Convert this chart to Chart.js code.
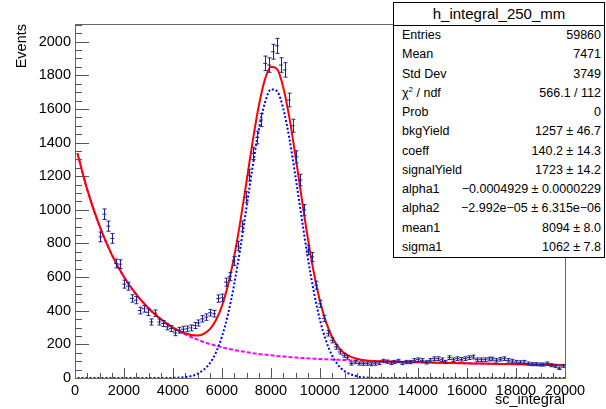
<!DOCTYPE html>
<html>
<head>
<meta charset="utf-8">
<script src="https://cdn.jsdelivr.net/npm/chart.js@4.4.1/dist/chart.umd.min.js"></script>
<style>
  body { margin: 0; background: #fff; }
  #wrap { position: relative; width: 606px; height: 409px; }
  #stats {
    position: absolute; left: 393px; top: 2px; width: 210px;
    border: 1px solid #000; background: #fff; color: #000;
    font-family: "Liberation Sans", Arial, sans-serif;
  }
  #stats .title { height: 22px; line-height: 22px; text-align: center; font-size: 15px; border-bottom: 1px solid #000; }
  #stats .row { display: flex; justify-content: space-between; height: 19.25px; line-height: 19.25px; font-size: 12.5px; padding: 0 3px 0 8px; white-space: nowrap; overflow: hidden; }
  #stats sup { font-size: 8px; line-height: 0; vertical-align: 5px; }
</style>
</head>
<body>
<div id="wrap">
  <canvas id="histChart" width="606" height="409"></canvas>
  <div id="stats"></div>
</div>
<script>
// histogram: 125 bins of 160 from 0 to 20000, first filled bin is #6
const binWidth = 160;
const firstBin = 6;
const counts = [
  839, 974, 903, 830, 681, 677, 558, 546, 473, 463,
  401, 412, 391, 333, 385, 333, 324, 304, 294, 268,
  284, 290, 292, 298, 312, 327, 352, 362, 388, 382,
  472, 477, 570, 603, 696, 785, 903, 1075, 1206, 1336,
  1430, 1534, 1871, 1861, 1940, 1975, 1861, 1832, 1653, 1500,
  1315, 1177, 1000, 762, 720, 552, 441, 354, 266, 224,
  185, 155, 135, 123, 86, 95, 86, 85, 85, 82,
  85, 89, 101, 97, 89, 95, 101, 89, 95, 95,
  105, 109, 105, 93, 105, 115, 115, 109, 95, 121,
  109, 115, 111, 115, 121, 125, 109, 109, 109, 113,
  113, 105, 111, 115, 105, 101, 95, 93, 95, 86,
  82, 82, 80, 80, 86, 76, 70, 58, 72
];

// fit curves
const curveX = [100, 500, 1000, 1500, 2000, 2500, 3000, 3500, 4000, 4500, 5000, 5500, 5750,
  6000, 6250, 6500, 6750, 7000, 7250, 7500, 7750, 8000, 8250, 8500, 8750, 9000, 9250,
  9500, 9750, 10000, 10250, 10500, 10750, 11000, 11500, 12000, 12500, 13000, 13500,
  14000, 14500, 15000, 15500, 16000, 16500, 17000, 17500, 18000, 18500, 19000, 19500, 20000];
const totalFit = [1336, 1120, 904, 734, 601, 497, 415, 350, 300, 265, 252, 290, 343,
  429, 556, 725, 933, 1167, 1405, 1617, 1774, 1851, 1836, 1729, 1548, 1319, 1072,
  834, 626, 457, 331, 242, 183, 147, 114, 103, 99, 97, 95,
  93.5, 92, 90.3, 88.8, 87.4, 86, 84.6, 83.3, 82, 80.7, 79.5, 78.3, 77.2];
const bkgFit = [1336, 1120, 904, 734, 601, 497, 415, 350, 299, 259, 228, 202, 192,
  182.5, 174, 166, 160, 154, 148, 143, 139, 135, 131, 128, 125, 122, 119.5,
  117, 115, 113, 111, 109.5, 108, 106.4, 103.7, 101.3, 99.1, 97.1, 95.2,
  93.5, 91.9, 90.3, 88.8, 87.4, 86, 84.6, 83.3, 82, 80.7, 79.5, 78.3, 77.2];
const sigFit = [0, 0, 0, 0, 0, 0, 0, 0, 1, 5.6, 24.7, 87, 151,
  247, 382, 559, 774, 1014, 1256, 1474, 1635, 1716, 1705, 1602, 1424, 1197, 953,
  717, 511, 344, 220, 132, 75, 41, 10, 2, 0.3, 0, 0,
  0, 0, 0, 0, 0, 0, 0, 0, 0, 0, 0, 0, 0];

const xTicks = [0, 2000, 4000, 6000, 8000, 10000, 12000, 14000, 16000, 18000, 20000];
const yTicks = [0, 200, 400, 600, 800, 1000, 1200, 1400, 1600, 1800, 2000];
const xMinorStep = 500;
const yMinorStep = 50;

const statsTitle = 'h_integral_250_mm';
const statsLabels = ['Entries', 'Mean', 'Std Dev', 'χ<sup>2</sup> / ndf', 'Prob',
  'bkgYield', 'coeff', 'signalYield', 'alpha1', 'alpha2', 'mean1', 'sigma1'];
const statsValues = ['59860', '7471', '3749', '566.1 / 112', '0', '1257 ± 46.7', '140.2 ± 14.3',
  '1723 ± 14.2', '−0.0004929 ± 0.0000229', '−2.992e−05 ± 6.315e−06', '8094 ± 8.0', '1062 ± 7.8'];

const stats = document.getElementById('stats');
let html = '<div class="title">' + statsTitle + '</div>';
statsLabels.forEach((l, i) => {
  html += '<div class="row"><span>' + l + '</span><span>' + statsValues[i] + '</span></div>';
});
stats.innerHTML = html;

const histPoints = counts.map((c, i) => ({ x: (firstBin + i + 0.5) * binWidth, y: c }));
const curve = (arr) => arr.map((v, i) => ({ x: curveX[i], y: v }));

const dataColor = '#20208a';

// frame + inward ticks like ROOT, and error bars for the histogram
const framePlugin = {
  id: 'frame',
  beforeDatasetsDraw(chart) {
    const { ctx, chartArea: a, scales } = chart;
    ctx.save();
    ctx.strokeStyle = '#555';
    ctx.lineWidth = 1;
    ctx.beginPath();
    for (let v = 0; v <= scales.y.max; v += yMinorStep) {
      const y = Math.round(scales.y.getPixelForValue(v)) + 0.5;
      const len = v % 200 === 0 ? 14 : 7;
      ctx.moveTo(a.left, y); ctx.lineTo(a.left + len, y);
    }
    for (let v = 0; v <= scales.x.max; v += xMinorStep) {
      const x = Math.round(scales.x.getPixelForValue(v)) + 0.5;
      const len = v % 2000 === 0 ? 10 : 5;
      ctx.moveTo(x, a.bottom); ctx.lineTo(x, a.bottom - len);
    }
    ctx.stroke();
    ctx.strokeStyle = '#666';
    ctx.strokeRect(Math.round(a.left) + 0.5, Math.round(a.top) + 0.5,
      Math.round(a.right - a.left), Math.round(a.bottom - a.top));
    ctx.restore();
  },
  afterDatasetsDraw(chart) {
    const { ctx, scales } = chart;
    ctx.save();
    ctx.strokeStyle = dataColor;
    ctx.lineWidth = 1;
    ctx.beginPath();
    histPoints.forEach(p => {
      const err = Math.sqrt(p.y);
      const x = Math.round(scales.x.getPixelForValue(p.x)) + 0.5;
      const y = scales.y.getPixelForValue(p.y);
      const x0 = scales.x.getPixelForValue(p.x - binWidth / 2);
      const x1 = scales.x.getPixelForValue(p.x + binWidth / 2);
      const yLo = scales.y.getPixelForValue(p.y - err);
      const yHi = scales.y.getPixelForValue(p.y + err);
      ctx.moveTo(x0, y); ctx.lineTo(x1, y);
      ctx.moveTo(x, yLo); ctx.lineTo(x, yHi);
      ctx.moveTo(x - 2, yLo); ctx.lineTo(x + 2, yLo);
      ctx.moveTo(x - 2, yHi); ctx.lineTo(x + 2, yHi);
    });
    ctx.stroke();
    ctx.restore();
  }
};

const font = { family: '"Liberation Sans", Arial, sans-serif', size: 14.5 };

new Chart(document.getElementById('histChart').getContext('2d'), {
  type: 'scatter',
  data: {
    datasets: [
      { label: 'total', data: curve(totalFit), showLine: true, borderColor: '#ff0000',
        borderWidth: 2, pointRadius: 0, cubicInterpolationMode: 'monotone' },
      { label: 'signal', data: curve(sigFit), showLine: true, borderColor: '#0000ff',
        borderWidth: 2, borderDash: [2, 2], pointRadius: 0, cubicInterpolationMode: 'monotone' },
      { label: 'bkg', data: curve(bkgFit), showLine: true, borderColor: '#ff00ff',
        borderWidth: 2, borderDash: [4, 2], pointRadius: 0, cubicInterpolationMode: 'monotone' },
      { label: 'data', data: histPoints, pointRadius: 0, showLine: false }
    ]
  },
  options: {
    responsive: false,
    animation: false,
    devicePixelRatio: 1,
    layout: { padding: { top: 24, right: 41, left: 0, bottom: 0 } },
    plugins: { legend: { display: false }, tooltip: { enabled: false } },
    scales: {
      x: {
        type: 'linear', min: 0, max: 20000,
        grid: { display: false, drawTicks: false },
        border: { display: false },
        afterBuildTicks: s => { s.ticks = xTicks.map(v => ({ value: v })); },
        afterFit: s => { s.height = 31; },
        ticks: { color: '#000', font: font, padding: 4, maxRotation: 0, autoSkip: false, callback: v => String(v) },
        title: { display: true, text: 'sc_integral', align: 'end', color: '#000', font: font, padding: { top: 0, bottom: 0 } }
      },
      y: {
        type: 'linear', min: 0, max: 2105,
        grid: { display: false, drawTicks: false },
        border: { display: false },
        afterBuildTicks: s => { s.ticks = yTicks.map(v => ({ value: v })); },
        afterFit: s => { s.width = 75; },
        ticks: { color: '#000', font: font, padding: 4, autoSkip: false, callback: v => String(v) },
        title: { display: true, text: 'Events', align: 'end', color: '#000', font: font, padding: { top: 13, bottom: 0 } }
      }
    }
  },
  plugins: [framePlugin]
});
</script>
</body>
</html>
